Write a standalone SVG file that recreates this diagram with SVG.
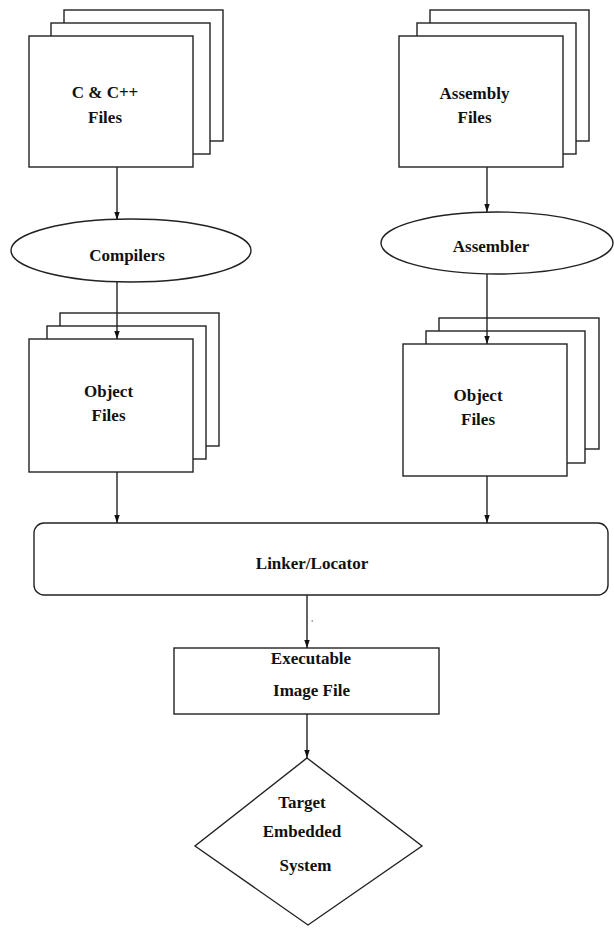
<svg xmlns="http://www.w3.org/2000/svg" width="614" height="943" viewBox="0 0 614 943">
<style>
.s{fill:#fff;stroke:#222;stroke-width:1.4}
.t{font-family:"Liberation Serif","Times New Roman",serif;font-weight:bold;font-size:17px;fill:#111;text-anchor:middle}
.c{stroke:#222;stroke-width:1.4;fill:none;marker-end:url(#ah)}
</style>
<defs>
<marker id="ah" markerUnits="userSpaceOnUse" markerWidth="9" markerHeight="7" refX="8" refY="3.5" orient="auto">
<path d="M0,0.8 L8,3.5 L0,6.2 z" fill="#111"/>
</marker>
</defs>
<rect width="614" height="943" fill="#fff"/>
<g id="cfiles">
<rect class="s" x="64" y="10" width="159" height="131"/>
<rect class="s" x="51" y="23" width="159" height="131"/>
<rect class="s" x="29" y="36" width="164" height="131"/>
<text class="t" x="105" y="98">C &amp; C++</text>
<text class="t" x="105" y="123">Files</text>
</g>
<g id="asmfiles">
<rect class="s" x="430" y="10" width="159" height="131"/>
<rect class="s" x="417" y="23" width="159" height="131"/>
<rect class="s" x="399" y="36" width="164" height="131"/>
<text class="t" x="474.5" y="99">Assembly</text>
<text class="t" x="474.5" y="123">Files</text>
</g>
<g id="compilers">
<ellipse class="s" cx="131" cy="250.5" rx="120" ry="31.5"/>
<text class="t" x="127" y="261">Compilers</text>
</g>
<g id="assembler">
<ellipse class="s" cx="497" cy="243" rx="116" ry="31"/>
<text class="t" x="491" y="252">Assembler</text>
</g>
<g id="objleft">
<rect class="s" x="60" y="313" width="159" height="133"/>
<rect class="s" x="47" y="326" width="159" height="133"/>
<rect class="s" x="29" y="339" width="164" height="133"/>
<text class="t" x="108.5" y="397">Object</text>
<text class="t" x="108.5" y="421">Files</text>
</g>
<g id="objright">
<rect class="s" x="439" y="318" width="160" height="131"/>
<rect class="s" x="426" y="331" width="159" height="132"/>
<rect class="s" x="403" y="344" width="164" height="132"/>
<text class="t" x="478" y="401">Object</text>
<text class="t" x="478" y="425">Files</text>
</g>
<g id="linker">
<rect class="s" x="34" y="523" width="574" height="72" rx="10" ry="10"/>
<text class="t" x="312" y="569">Linker/Locator</text>
</g>
<g id="executable">
<rect class="s" x="174" y="648" width="265" height="66"/>
<text class="t" x="311" y="664">Executable</text>
<text class="t" x="311.5" y="696">Image File</text>
</g>
<g id="target">
<polygon class="s" points="307,758 422,846 308,925 195,846"/>
<text class="t" x="302" y="808">Target</text>
<text class="t" x="302" y="837">Embedded</text>
<text class="t" x="305.5" y="871">System</text>
</g>
<g id="connectors">
<line class="c" x1="117" y1="167" x2="117" y2="220"/>
<line class="c" x1="487" y1="167" x2="487" y2="212"/>
<line class="c" x1="117" y1="282" x2="117" y2="339"/>
<line class="c" x1="487" y1="274" x2="487" y2="344"/>
<line class="c" x1="117" y1="472" x2="117" y2="523"/>
<line class="c" x1="487" y1="476" x2="487" y2="523"/>
<line class="c" x1="307" y1="595" x2="307" y2="648"/>
<line class="c" x1="307" y1="714" x2="307" y2="758"/>
<line x1="311.5" y1="621" x2="313" y2="621" stroke="#555" stroke-width="1"/>
</g>
</svg>
